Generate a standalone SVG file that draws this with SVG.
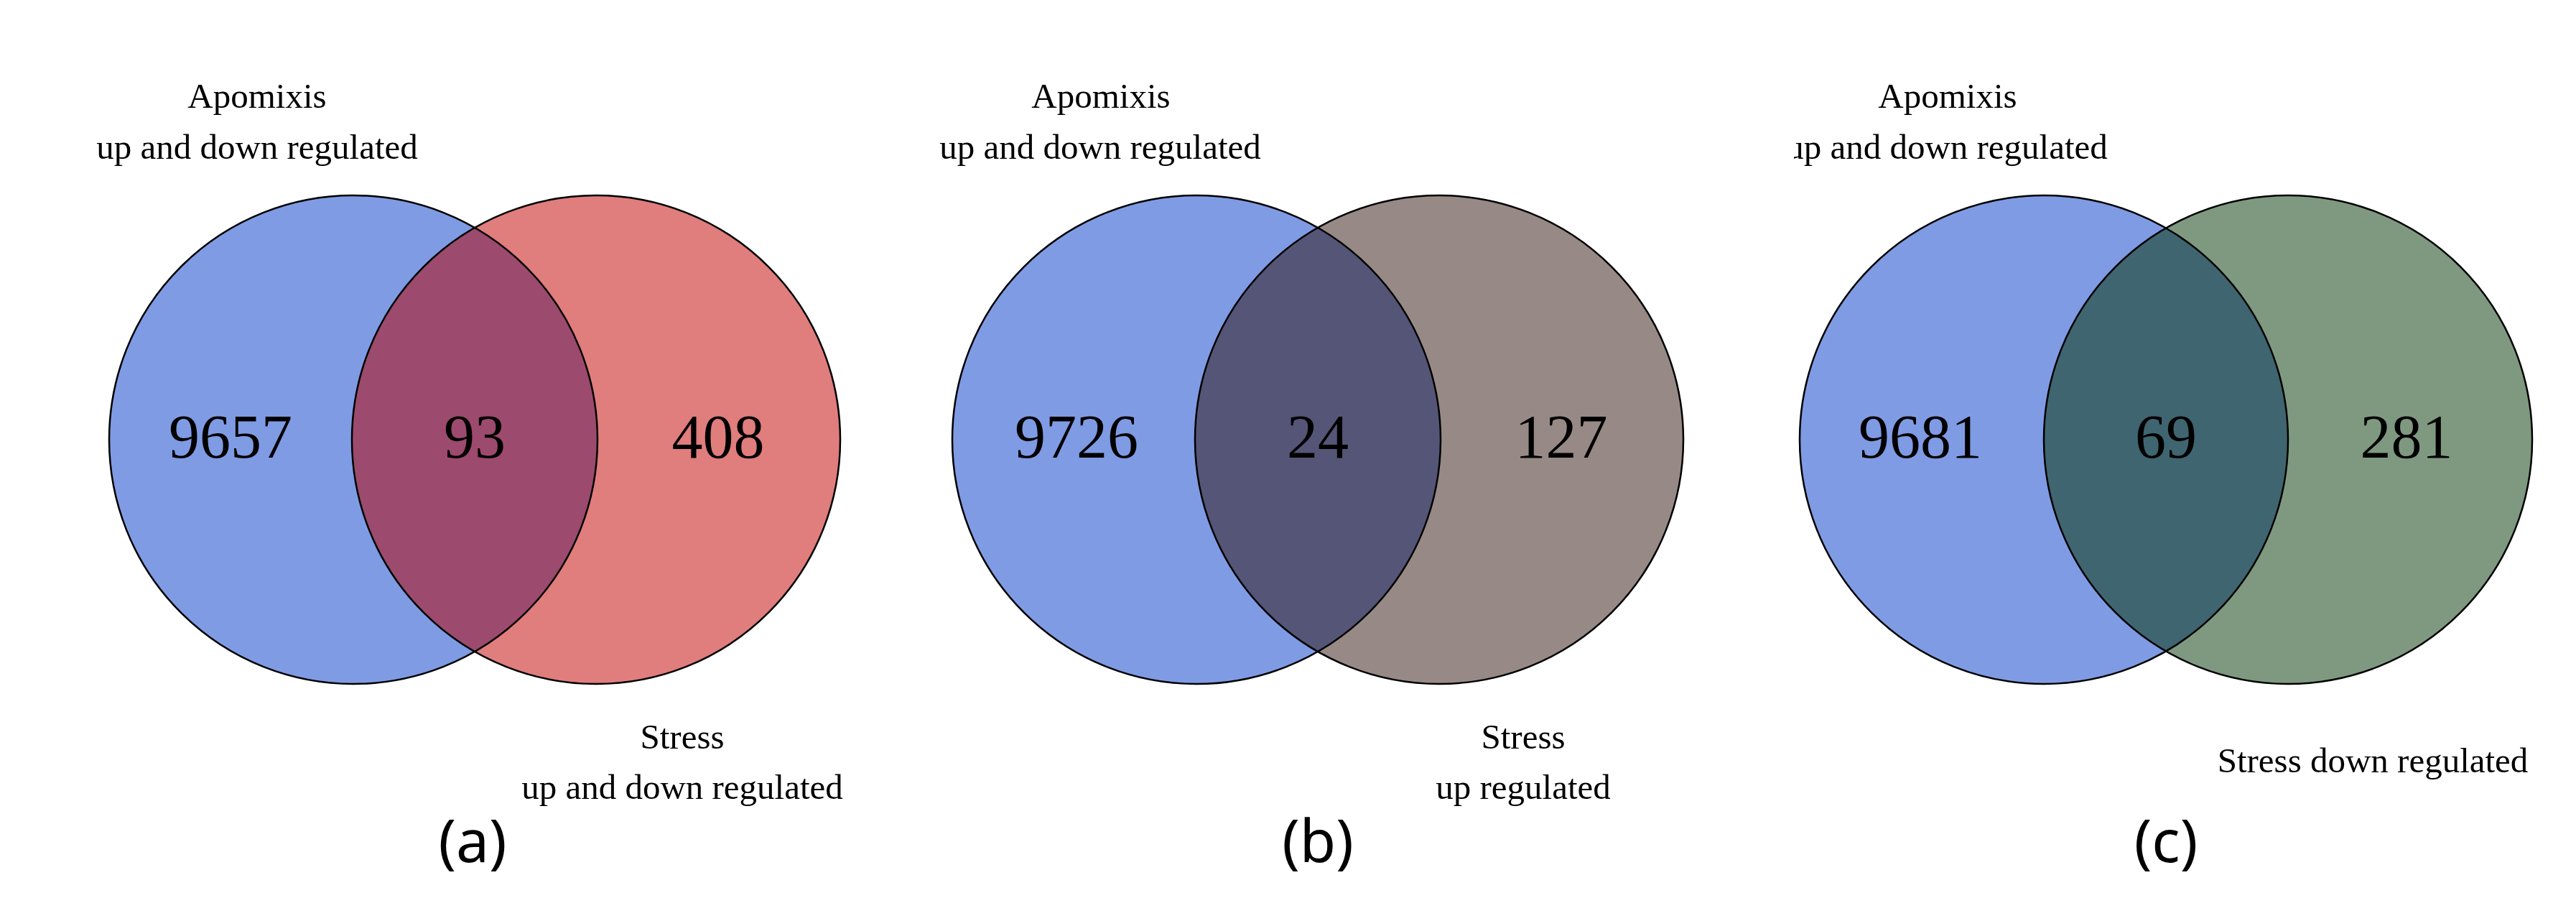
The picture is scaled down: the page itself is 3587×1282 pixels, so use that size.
<svg xmlns="http://www.w3.org/2000/svg" width="3587" height="1282" viewBox="0 0 3587 1282">
<style>
.c{stroke:#000;stroke-width:2.5}
.l{font-family:"Liberation Serif",serif;font-size:49px;text-anchor:middle;fill:#000}
.n{font-family:"Liberation Serif",serif;font-size:86px;text-anchor:middle;fill:#000}
.p{font-family:"Noto Sans","Open Sans",sans-serif;font-size:82px;text-anchor:middle;fill:#000}
</style>
<defs>
<clipPath id="ca1"><circle cx="492" cy="612" r="340"/></clipPath>
<clipPath id="cb1"><circle cx="1666" cy="612" r="340"/></clipPath>
<clipPath id="cc1"><circle cx="2846" cy="612" r="340"/></clipPath>
<clipPath id="clipc"><rect x="2498" y="0" width="1089" height="1282"/></clipPath>
</defs>
<rect width="3587" height="1282" fill="#fff"/>
<g id="panel-a">
<circle cx="492" cy="612" r="340" fill="#7f9be4"/>
<circle cx="830" cy="612" r="340" fill="#e07d7d"/>
<circle cx="830" cy="612" r="340" fill="#9c4a6e" clip-path="url(#ca1)"/>
<circle class="c" cx="492" cy="612" r="340" fill="none"/>
<circle class="c" cx="830" cy="612" r="340" fill="none"/>
<text class="n" x="321" y="637">9657</text>
<text class="n" x="661" y="637">93</text>
<text class="n" x="1000" y="637">408</text>
<text class="l" x="358" y="150">Apomixis</text>
<text class="l" x="358" y="221">up and down regulated</text>
<text class="l" x="950" y="1042">Stress</text>
<text class="l" x="950" y="1112">up and down regulated</text>
<text class="p" x="658" y="1200">(a)</text>
</g>
<g id="panel-b">
<circle cx="1666" cy="612" r="340" fill="#7f9be4"/>
<circle cx="2004" cy="612" r="340" fill="#978a86"/>
<circle cx="2004" cy="612" r="340" fill="#555577" clip-path="url(#cb1)"/>
<circle class="c" cx="1666" cy="612" r="340" fill="none"/>
<circle class="c" cx="2004" cy="612" r="340" fill="none"/>
<text class="n" x="1499" y="637">9726</text>
<text class="n" x="1835" y="637">24</text>
<text class="n" x="2174" y="637">127</text>
<text class="l" x="1533" y="150">Apomixis</text>
<text class="l" x="1532" y="221">up and down regulated</text>
<text class="l" x="2121" y="1042">Stress</text>
<text class="l" x="2121" y="1112">up regulated</text>
<text class="p" x="1835" y="1200">(b)</text>
</g>
<g id="panel-c">
<circle cx="2846" cy="612" r="340" fill="#7f9be4"/>
<circle cx="3186" cy="612" r="340" fill="#7f9980"/>
<circle cx="3186" cy="612" r="340" fill="#3f6570" clip-path="url(#cc1)"/>
<circle class="c" cx="2846" cy="612" r="340" fill="none"/>
<circle class="c" cx="3186" cy="612" r="340" fill="none"/>
<text class="n" x="2674" y="637">9681</text>
<text class="n" x="3016" y="637">69</text>
<text class="n" x="3351" y="637">281</text>
<text class="l" x="2712" y="150">Apomixis</text>
<text class="l" x="2711" y="221" clip-path="url(#clipc)">up and down regulated</text>
<text class="l" x="3304" y="1075">Stress down regulated</text>
<text class="p" x="3016" y="1200">(c)</text>
</g>
<g id="connectors"/>
</svg>
